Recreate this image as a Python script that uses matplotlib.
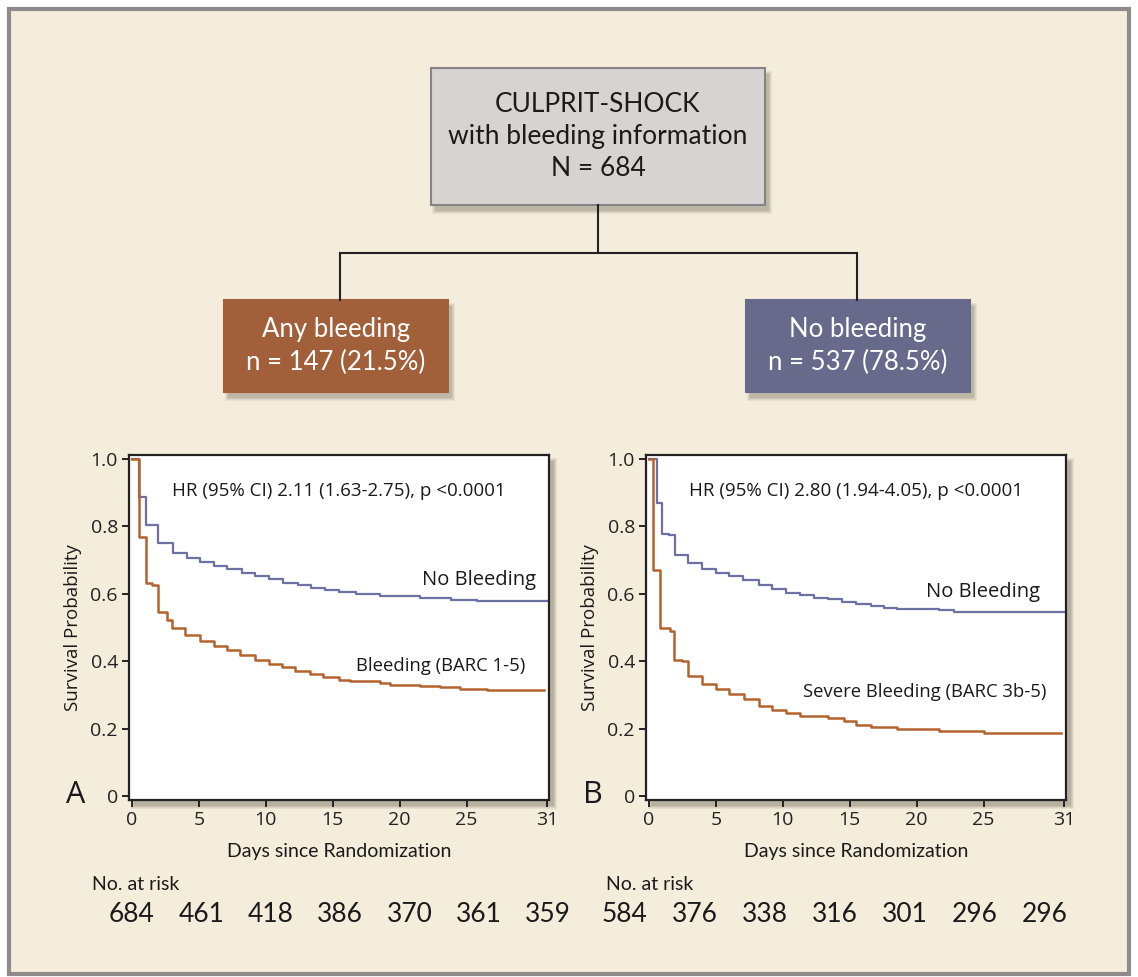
import numpy as np
import matplotlib
matplotlib.use("Agg")
import matplotlib.pyplot as plt
from matplotlib.patches import Rectangle

# ---- data ----
days_ticks = [0, 5, 10, 15, 20, 25, 31]
y_ticks = [0, 0.2, 0.4, 0.6, 0.8, 1.0]
y_tick_labels = ["0", "0.2", "0.4", "0.6", "0.8", "1.0"]

# panel A
a_nb_days = [0, 0.55, 1.02, 1.97, 3.1, 4.1, 5.1, 6.1, 7.1, 8.2, 9.2, 10.2, 11.3,
             12.4, 13.4, 14.4, 15.5, 16.7, 18.5, 21.5, 23.8, 25.8, 31.0]
a_nb_surv = [1.0, 0.887, 0.803, 0.750, 0.721, 0.705, 0.694, 0.683, 0.673, 0.662,
             0.652, 0.643, 0.633, 0.626, 0.618, 0.610, 0.604, 0.600, 0.594, 0.587,
             0.582, 0.578, 0.578]
a_bl_days = [0, 0.55, 1.02, 1.47, 1.97, 2.6, 3.0, 4.0, 5.1, 6.1, 7.1, 8.1, 9.2,
             10.2, 11.2, 12.2, 13.3, 14.3, 15.5, 16.3, 18.5, 19.3, 21.5, 23.0,
             24.5, 26.5, 30.75]
a_bl_surv = [1.0, 0.770, 0.632, 0.625, 0.545, 0.523, 0.500, 0.478, 0.460, 0.445,
             0.432, 0.418, 0.404, 0.393, 0.383, 0.372, 0.362, 0.352, 0.345, 0.340,
             0.334, 0.330, 0.326, 0.322, 0.318, 0.314, 0.314]
a_risk = [684, 461, 418, 386, 370, 361, 359]

# panel B
b_nb_days = [0, 0.6, 1.0, 1.48, 1.93, 2.9, 4.0, 5.0, 6.0, 7.05, 8.2, 9.2, 10.25,
             11.3, 12.3, 13.4, 14.4, 15.5, 16.55, 17.55, 18.55, 21.7, 22.8, 31.0]
b_nb_surv = [1.0, 0.869, 0.778, 0.774, 0.716, 0.690, 0.675, 0.663, 0.652, 0.640,
             0.625, 0.613, 0.603, 0.596, 0.589, 0.584, 0.576, 0.569, 0.563, 0.558,
             0.555, 0.551, 0.546, 0.546]
b_bl_days = [0, 0.3, 0.85, 1.55, 1.85, 2.5, 2.9, 4.0, 5.0, 6.0, 7.1, 8.2, 9.2,
             10.25, 11.3, 13.4, 14.55, 15.5, 16.55, 18.55, 21.7, 25.05, 30.75]
b_bl_surv = [1.0, 0.671, 0.500, 0.490, 0.405, 0.400, 0.355, 0.333, 0.318, 0.302,
             0.287, 0.268, 0.256, 0.246, 0.237, 0.230, 0.221, 0.212, 0.205, 0.198,
             0.194, 0.188, 0.188]
b_risk = [584, 376, 338, 316, 301, 296, 296]

# ---- styling ----
BG = "#F4EDDB"
BLUE = "#6C70A3"
ORANGE = "#B4622E"
BOX_ORANGE = "#A2603A"
BOX_BLUE = "#676A8B"
BOX_GREY = "#D6D3D2"
NARROW = ["Lato", "DejaVu Sans"]
SANS = ["Open Sans", "DejaVu Sans"]

W, H = 1138, 977
fig = plt.figure(figsize=(W / 100, H / 100), dpi=100)
fig.patch.set_facecolor("white")

# background axes in pixel coordinates
bg = fig.add_axes([0, 0, 1, 1])
bg.set_xlim(0, W)
bg.set_ylim(H, 0)
bg.axis("off")

bg.add_patch(Rectangle((9, 9), W - 18, H - 12, facecolor=BG, edgecolor="#8E8C8A", lw=3))


def shadow(x, y, w, h, dx=4, dy=6):
    for k, a in zip(range(4), [0.08, 0.08, 0.1, 0.12]):
        g = 3 - k
        bg.add_patch(Rectangle((x + dx - g, y + dy - g), w + 2 * g, h + 2 * g,
                               facecolor="#5a5040", edgecolor="none", alpha=a))


def box(x, y, w, h, color, edge, lines, tcolor, size):
    shadow(x, y, w, h)
    bg.add_patch(Rectangle((x, y), w, h, facecolor=color, edgecolor=edge, lw=1.5))
    n = len(lines)
    for i, t in enumerate(lines):
        yy = y + h / 2 + (i - (n - 1) / 2) * 32
        bg.text(x + w / 2, yy, t, ha="center", va="center", color=tcolor,
                fontsize=size, family=NARROW)


# connectors
bg.plot([598, 598], [205, 253], color="#222222", lw=1.5)
bg.plot([340, 857], [253, 253], color="#222222", lw=1.5)
bg.plot([340, 340], [253, 300], color="#222222", lw=1.5)
bg.plot([857, 857], [253, 300], color="#222222", lw=1.5)

box(431, 68, 334, 137, BOX_GREY, "#858383",
    ["CULPRIT-SHOCK", "with bleeding information", "N = 684"], "#1a1a1a", 19)
box(224, 300, 224, 92, BOX_ORANGE, BOX_ORANGE,
    ["Any bleeding", "n = 147 (21.5%)"], "white", 18.5)
box(746, 300, 224, 92, BOX_BLUE, BOX_BLUE,
    ["No bleeding", "n = 537 (78.5%)"], "white", 18.5)


def km_panel(left_px, right_px, nb_d, nb_s, bl_d, bl_s, hr_text, bl_label,
             nb_label_y, bl_label_y, nb_right, bl_right, letter, risk, risk_x0, risk_x1):
    top_px, bot_px = 455, 800
    # shadow behind the plot box
    for k, a in zip(range(4), [0.08, 0.08, 0.1, 0.14]):
        g = 3 - k
        bg.add_patch(Rectangle((left_px + 5 - g, top_px + 6 - g),
                               right_px - left_px + 2 * g, bot_px - top_px + 2 * g,
                               facecolor="#4a4030", edgecolor="none", alpha=a))
    ax = fig.add_axes([left_px / W, 1 - bot_px / H, (right_px - left_px) / W,
                       (bot_px - top_px) / H])
    ax.set_facecolor("white")
    ax.step(nb_d, nb_s, where="post", color=BLUE, lw=1.6)
    ax.step(bl_d, bl_s, where="post", color=ORANGE, lw=1.8)
    ax.set_xlim(-0.22, 31.15)
    ax.set_ylim(-0.012, 1.012)
    ax.set_xticks(days_ticks)
    ax.set_yticks(y_ticks)
    ax.set_yticklabels(y_tick_labels)
    for s in ax.spines.values():
        s.set_color("#222222")
        s.set_linewidth(1.6)
    ax.tick_params(direction="out", length=5, width=1.4, colors="#222222",
                   labelsize=14, pad=3)
    for lab in ax.get_xticklabels() + ax.get_yticklabels():
        lab.set_family(SANS)
    ax.set_xlabel("Days since Randomization", fontsize=14, family=NARROW,
                  labelpad=10, color="#1a1a1a")
    ax.set_ylabel("Survival Probability", fontsize=13.5, family=SANS,
                  labelpad=6, color="#1a1a1a")
    ax.text(0.5, 0.895, hr_text, transform=ax.transAxes, ha="center", va="center",
            fontsize=13.5, family=SANS, color="#1a1a1a")
    ax.text(nb_right, nb_label_y, "No Bleeding", ha="right", va="center",
            fontsize=14.5, family=SANS, color="#1a1a1a")
    ax.text(bl_right, bl_label_y, bl_label, ha="right", va="center",
            fontsize=13.3, family=SANS, color="#1a1a1a")
    # panel letter
    bg.text(left_px - 53, 795, letter, ha="center", va="center", fontsize=22,
            family=SANS, color="#1a1a1a")
    # numbers at risk
    bg.text(left_px - 37 if letter == "A" else left_px - 40, 884, "No. at risk",
            ha="left", va="center", fontsize=14, family=NARROW, color="#1a1a1a")
    for xx, r in zip(np.linspace(risk_x0, risk_x1, len(risk)), risk):
        bg.text(xx, 914, str(r), ha="center", va="center", fontsize=19,
                family=NARROW, color="#1a1a1a")
    return ax


km_panel(129, 549, a_nb_days, a_nb_surv, a_bl_days, a_bl_surv,
         "HR (95% CI) 2.11 (1.63-2.75), p <0.0001", "Bleeding (BARC 1-5)",
         0.64, 0.385, 30.2, 29.4, "A", a_risk, 132, 548)
km_panel(646, 1066, b_nb_days, b_nb_surv, b_bl_days, b_bl_surv,
         "HR (95% CI) 2.80 (1.94-4.05), p <0.0001", "Severe Bleeding (BARC 3b-5)",
         0.605, 0.31, 29.2, 29.7, "B", b_risk, 625, 1045)

fig.savefig("out.png", dpi=100, facecolor=fig.get_facecolor())
